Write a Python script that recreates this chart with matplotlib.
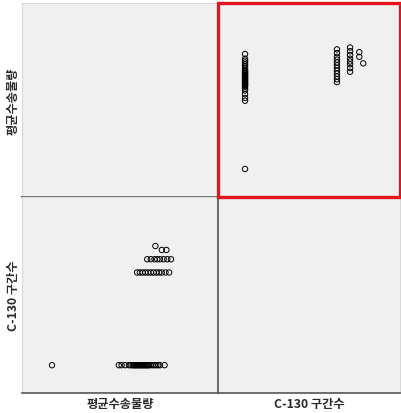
import matplotlib as mpl
mpl.use('Agg')
import matplotlib.pyplot as plt
from matplotlib.patches import Rectangle

plt.rcParams['font.family'] = ['Noto Sans CJK KR', 'DejaVu Sans']

var_names = ['평균수송물량', 'C-130 구간수']

# paired observations: C-130 sections vs. average transport volume
c130_count = [1] * 32 + [8] * 12 + [9] * 8 + [9.7, 9.7, 10.0]
avg_volume = [10, 46.5, 48, 50, 52, 53, 54, 54.5, 55, 55.5, 56, 56.5, 57, 57.5,
              58, 58.5, 59, 59.5, 60, 60.5, 61, 61.5, 62, 62.5, 63, 64, 65,
              66, 67, 68, 69, 71.5,
              56.5, 58, 59.5, 61, 62.5, 64, 65.5, 67, 68.5, 70, 72, 74,
              62, 64, 66, 67.5, 69, 71, 73, 75,
              72.5, 70, 66.5]

W, H = 401, 414
fig = plt.figure(figsize=(W / 100, H / 100), dpi=100)
fig.patch.set_facecolor('white')

xl, xm, xr = 22, 218, 400
yt, ym, yb = 4, 198, 394

def pax(x0, y0, x1, y1):
    return fig.add_axes([x0 / W, (H - y1) / H, (x1 - x0) / W, (y1 - y0) / H])

ax_tl = pax(xl, yt, xm, ym)
ax_tr = pax(xm, yt, xr, ym)
ax_bl = pax(xl, ym, xm, yb)
ax_br = pax(xm, ym, xr, yb)

for ax in (ax_tl, ax_tr, ax_bl, ax_br):
    ax.set_facecolor('#f0f0f0')
    ax.set_xticks([])
    ax.set_yticks([])
    for s in ax.spines.values():
        s.set_color('#d8d8d8')
        s.set_linewidth(0.8)

vol_lim = (-6.4, 100.7)
c130_lim_x = (-1.06, 12.8)
c130_lim_y = (-1.1, 13.7)

mk = dict(s=15, facecolors='none', edgecolors='black', linewidths=0.7)

ax_tr.scatter(c130_count, avg_volume, **mk)
ax_tr.set_xlim(*c130_lim_x)
ax_tr.set_ylim(-5, 98.8)

ax_bl.scatter(avg_volume, c130_count, **mk)
ax_bl.set_xlim(*vol_lim)
ax_bl.set_ylim(*c130_lim_y)

# dark separators
ax_tl.spines['bottom'].set_color('#555555')
ax_tl.spines['bottom'].set_linewidth(1.2)
ax_br.spines['left'].set_color('#555555')
ax_br.spines['left'].set_linewidth(1.2)
for ax in (ax_bl, ax_br):
    ax.spines['bottom'].set_color('#555555')
    ax.spines['bottom'].set_linewidth(1.2)

# selection frame around the top-right cell
fig.add_artist(Rectangle((xm / W, (H - ym) / H), (xr - xm) / W, (ym - yt) / H,
                         transform=fig.transFigure, fill=False,
                         edgecolor='#e3141b', linewidth=2.4, zorder=10))

lbl = dict(fontsize=8.8, fontweight='bold', color='#2a2a2a')
fig.text((xl + xm) / 2 / W, 1 - 405 / H, var_names[0], ha='center', va='center', **lbl)
fig.text((xm + xr) / 2 / W, 1 - 405 / H, var_names[1], ha='center', va='center', **lbl)
fig.text(13 / W, 1 - (yt + ym) / 2 / H, var_names[0], rotation=90, ha='center', va='center', **lbl)
fig.text(13 / W, 1 - (ym + yb) / 2 / H, var_names[1], rotation=90, ha='center', va='center', **lbl)

fig.savefig('out.png', dpi=100, facecolor='white')
